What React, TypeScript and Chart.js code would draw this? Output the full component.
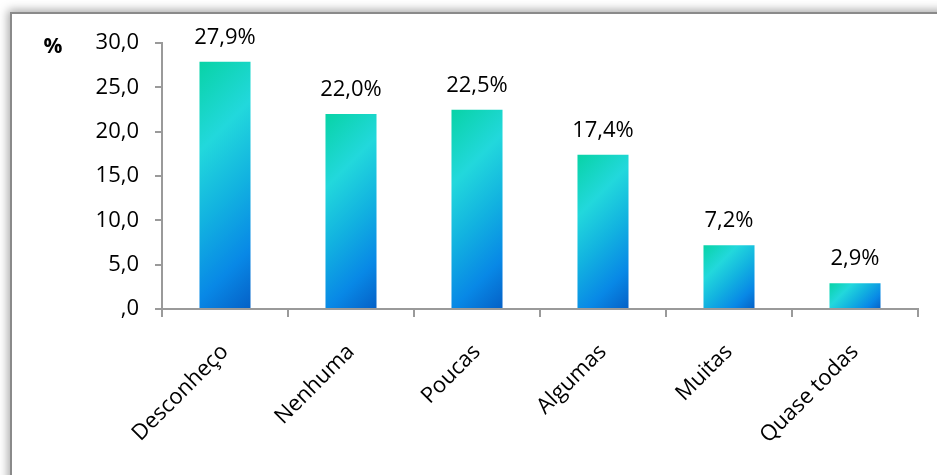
import React, { useEffect, useRef } from 'react';
import { Chart, registerables } from 'chart.js';

Chart.register(...registerables);

const categories = ['Desconheço', 'Nenhuma', 'Poucas', 'Algumas', 'Muitas', 'Quase todas'];
const values = [27.9, 22.0, 22.5, 17.4, 7.2, 2.9];
const yMin = 0;
const yMax = 30;
const yStep = 5;
const unitLabel = '%';

const FONT = '"Open Sans", "Noto Sans", sans-serif';
const FONT_SIZE = 22;
const BAR_PCT = 0.405;

const fmtAxis = (v: number) => (v === 0 ? ',0' : v.toFixed(1).replace('.', ','));
const fmtLabel = (v: number) => v.toFixed(1).replace('.', ',') + '%';

const gradientFor = (context: any) => {
  const chart = context.chart;
  const xs = chart.scales?.x;
  const ys = chart.scales?.y;
  if (context.type !== 'data' || !xs || !ys || !chart.chartArea) return '#22c8e0';
  const i = context.dataIndex;
  const v = values[i];
  const cx = xs.getPixelForValue(i);
  const w = (xs.width / categories.length) * BAR_PCT;
  const top = ys.getPixelForValue(v);
  const base = ys.getPixelForValue(0);
  const h = Math.max(1, base - top);
  const x0 = cx - w / 2;
  const t = (w + h) / 2;
  const g = chart.ctx.createLinearGradient(x0, top, x0 + t, top + t);
  g.addColorStop(0, '#08d3a6');
  g.addColorStop(0.3, '#22d8dc');
  g.addColorStop(0.55, '#12b2e0');
  g.addColorStop(0.8, '#0888e6');
  g.addColorStop(1, '#0560c6');
  return g;
};

const labelsPlugin = {
  id: 'valueLabels',
  afterDatasetsDraw(chart: any) {
    const ctx = chart.ctx;
    const meta = chart.getDatasetMeta(0);
    ctx.save();
    ctx.fillStyle = '#000';
    ctx.font = `${FONT_SIZE}px ${FONT}`;
    ctx.textAlign = 'center';
    ctx.textBaseline = 'alphabetic';
    meta.data.forEach((bar: any, i: number) => {
      ctx.fillText(fmtLabel(values[i]), bar.x, bar.y - 18);
    });
    ctx.font = `bold 21px ${FONT}`;
    ctx.fillText(unitLabel, 41, 39);
    ctx.restore();
  },
};

export default function App() {
  const ref = useRef<HTMLCanvasElement>(null);

  useEffect(() => {
    if (!ref.current) return;
    const chart = new Chart(ref.current, {
      type: 'bar',
      data: {
        labels: categories,
        datasets: [
          {
            data: values,
            backgroundColor: gradientFor,
            borderWidth: 0,
            barPercentage: BAR_PCT,
            categoryPercentage: 1,
          },
        ],
      },
      options: {
        animation: false,
        responsive: false,
        maintainAspectRatio: false,
        layout: { padding: { top: 28, right: 19, bottom: 0, left: 0 } },
        plugins: {
          legend: { display: false },
          tooltip: { enabled: false },
        },
        scales: {
          x: {
            grid: {
              offset: true,
              drawOnChartArea: false,
              drawTicks: true,
              tickLength: 8,
              color: '#9a9a9a',
              lineWidth: 2,
            },
            border: { color: '#9a9a9a', width: 2 },
            ticks: {
              autoSkip: false,
              minRotation: 45,
              maxRotation: 45,
              padding: 22,
              color: '#000',
              font: { family: FONT, size: FONT_SIZE },
            },
            afterFit: (s: any) => {
              s.height = 166;
            },
          },
          y: {
            min: yMin,
            max: yMax,
            grid: {
              drawOnChartArea: false,
              drawTicks: true,
              tickLength: 7,
              color: '#9a9a9a',
              lineWidth: 2,
            },
            border: { color: '#9a9a9a', width: 2 },
            ticks: {
              stepSize: yStep,
              padding: 16,
              color: '#000',
              font: { family: FONT, size: FONT_SIZE },
              callback: (v: any) => fmtAxis(Number(v)),
            },
            afterFit: (s: any) => {
              s.width = 150;
            },
          },
        },
      },
      plugins: [labelsPlugin],
    });
    return () => chart.destroy();
  }, []);

  return (
    <div style={{ position: 'fixed', inset: 0, overflow: 'hidden', background: '#fff' }}>
      <div
        style={{
          position: 'absolute',
          left: 10,
          top: 12,
          width: 1000,
          height: 520,
          border: '2px solid #8a8a8a',
          boxShadow: '0 0 9px 2px rgba(0,0,0,0.35)',
          background: '#fff',
        }}
      >
        <canvas ref={ref} width={925} height={461} style={{ display: 'block' }} />
      </div>
    </div>
  );
}
